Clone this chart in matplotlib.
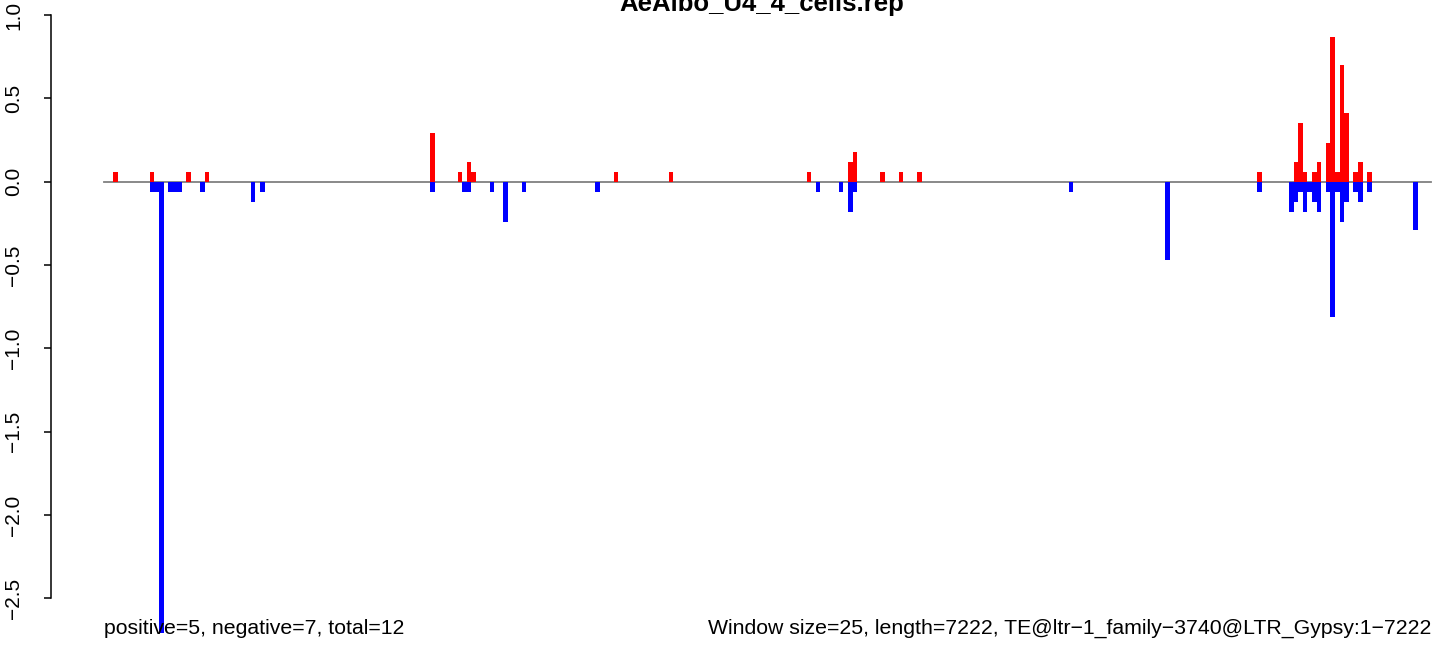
import matplotlib
matplotlib.use("Agg")
import matplotlib.pyplot as plt

plt.rcParams['font.family'] = ['Liberation Sans', 'DejaVu Sans']

# window size / sequence length
win = 25
seq_len = 7222

# positive windows (window index, value)
pos_idx = [2, 10, 18, 22, 71, 77, 79, 80, 111, 123, 153, 162, 163, 169, 173, 177,
           251, 259, 260, 261, 263, 264, 266, 267, 268, 269, 270, 272, 273, 275]
pos_val = [0.06, 0.06, 0.06, 0.06, 0.29, 0.06, 0.12, 0.06, 0.06, 0.06, 0.06, 0.12, 0.18, 0.06, 0.06, 0.06,
           0.06, 0.12, 0.35, 0.06, 0.06, 0.12, 0.23, 0.87, 0.06, 0.70, 0.41, 0.06, 0.12, 0.06]

# negative windows
neg_idx = [10, 11, 12, 14, 15, 16, 21, 32, 34, 71, 78, 79, 84, 87, 91, 107, 155, 160, 162, 163,
           210, 231, 251, 258, 259, 260, 261, 262, 263, 264, 266, 267, 268, 269, 270, 272, 273, 275, 285]
neg_val = [-0.06, -0.06, -2.71, -0.06, -0.06, -0.06, -0.06, -0.12, -0.06, -0.06, -0.06, -0.06, -0.06, -0.24,
           -0.06, -0.06, -0.06, -0.06, -0.18, -0.06, -0.06, -0.47, -0.06, -0.18, -0.12, -0.06, -0.18,
           -0.06, -0.12, -0.18, -0.06, -0.81, -0.06, -0.24, -0.12, -0.06, -0.12, -0.06, -0.29]

yticks = [-2.5, -2.0, -1.5, -1.0, -0.5, 0.0, 0.5, 1.0]

title = "AeAlbo_U4_4_cells.rep"
left_note = "positive=5, negative=7, total=12"
right_note = "Window size=25, length=7222, TE@ltr\u22121_family\u22123740@LTR_Gypsy:1\u22127222"

fig = plt.figure(figsize=(14.44, 6.56), dpi=100)
ax = fig.add_axes([51 / 1444, 0, (1444 - 51) / 1444, 1])

# baseline
ax.plot([0, seq_len], [0, 0], color='#808080', lw=1.3, zorder=1)

ax.bar([i * win for i in pos_idx], pos_val, width=win, align='edge', color='red', linewidth=0, zorder=2)
ax.bar([i * win for i in neg_idx], neg_val, width=win, align='edge', color='blue', linewidth=0, zorder=2)

ax.set_xlim(-287.3, 7293)
ax.set_ylim(-2.846, 1.09)

for s in ['top', 'right', 'bottom']:
    ax.spines[s].set_visible(False)
ax.spines['left'].set_bounds(-2.5, 1.0)
ax.spines['left'].set_linewidth(1.1)
ax.set_xticks([])
ax.set_yticks(yticks)
ax.set_yticklabels([f"{t:.1f}".replace('-', '\u2212') for t in yticks], rotation=90, va='center')
ax.tick_params(axis='y', length=5, width=1.1, pad=15, labelsize=15)

ax.text(0, 0.0335, left_note, transform=ax.get_xaxis_transform(), ha='left', va='baseline', fontsize=15.3)
ax.text(seq_len, 0.0335, right_note, transform=ax.get_xaxis_transform(), ha='right', va='baseline', fontsize=15.3)

fig.text(762 / 1444, 1 - 11 / 656, title, ha='center', va='baseline', fontsize=18.5, fontweight='bold')

fig.savefig("out.png", dpi=100)
